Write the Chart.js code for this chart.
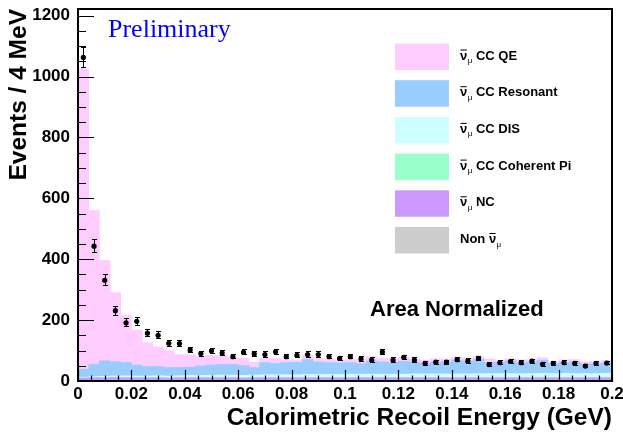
<!DOCTYPE html>
<html>
<head>
<meta charset="utf-8">
<title>Calorimetric Recoil Energy</title>
<script src="https://cdn.jsdelivr.net/npm/chart.js@4.4.1/dist/chart.umd.min.js"></script>
<style>
  html, body { margin: 0; padding: 0; background: #fff; }
</style>
</head>
<body>
<canvas id="recoil" width="623" height="435"></canvas>
<script>
// 50 bins of 4 MeV, 0 - 0.2 GeV
const BIN_WIDTH = 0.004;
const N_BINS = 50;
const binCenters = Array.from({ length: N_BINS }, (_, i) => +(BIN_WIDTH * (i + 0.5)).toFixed(4));

const xTickValues = [0, 0.02, 0.04, 0.06, 0.08, 0.1, 0.12, 0.14, 0.16, 0.18, 0.2];
const yTickValues = [0, 200, 400, 600, 800, 1000, 1200];

// data points and their errors
const dataCounts = [1063, 443, 331, 231, 191, 196, 157, 150, 124, 123,
                    102, 90, 99, 92, 80, 94, 89, 87, 96, 80,
                    84, 87, 87, 80, 74, 80, 73, 69, 95, 69,
                    78, 69, 58, 62, 62, 70, 66, 74, 54, 60,
                    64, 60, 65, 55, 58, 60, 58, 49, 58, 59];
const dataErrors = [34, 22, 19, 16, 15, 15, 13, 13, 12, 12,
                    11, 10, 10, 10, 9, 10, 10, 10, 10, 9,
                    10, 10, 10, 9, 9, 9, 9, 9, 10, 9,
                    9, 9, 8, 8, 8, 9, 9, 9, 8, 8,
                    8, 8, 8, 8, 8, 8, 8, 7, 8, 8];

// MC stack, bottom to top
const nonNumu = [0.5, 0.5, 0.5, 0.5, 0.5, 0.5, 0.5, 0.5, 0.5, 0.5,
                 0.5, 0.5, 0.5, 0.5, 0.5, 0.5, 0.5, 0.5, 0.5, 0.5,
                 0.5, 0.5, 0.5, 0.5, 0.5, 0.5, 0.5, 0.5, 0.5, 0.5,
                 0.5, 0.5, 0.5, 0.5, 0.5, 0.5, 0.5, 0.5, 0.5, 0.5,
                 0.5, 0.5, 0.5, 0.5, 0.5, 0.5, 0.5, 0.5, 0.5, 0.5];
const nc = [9, 10, 10, 11, 10, 10, 10, 10, 9, 10,
            10, 10, 10, 10, 10, 9, 10, 10, 10, 10,
            10, 10, 10, 10, 10, 10, 10, 10, 10, 10,
            10, 10, 10, 10, 10, 10, 10, 10, 10, 10,
            10, 10, 10, 10, 10, 10, 10, 10, 10, 10];
const coherent = [1, 1, 1, 1, 1.5, 1, 1, 1, 1, 1,
                  1, 1, 1, 1, 1, 1, 1, 1, 1, 1,
                  1, 1, 1, 1, 1, 1, 1, 1, 1, 1,
                  1, 1, 1, 1, 1, 1, 1, 1, 1, 1,
                  1, 1, 1, 1, 1, 1, 1, 1, 1, 1];
const dis = [2, 3, 4, 4, 5, 5, 5, 6, 6, 6,
             7, 7, 7, 8, 8, 8, 8, 9, 9, 9,
             9, 10, 10, 10, 10, 11, 11, 11, 11, 11,
             11, 12, 12, 12, 12, 12, 12, 13, 13, 13,
             13, 13, 13, 14, 13, 14, 13, 14, 13, 14];
const resonant = [26, 40, 51, 47, 44, 36, 31, 30, 28, 27,
                  27, 31, 34, 35, 35, 32, 25, 40, 37, 40,
                  41, 49, 41, 39, 38, 38, 35, 43, 40, 38,
                  42, 39, 35, 38, 39, 45, 41, 46, 36, 36,
                  42, 36, 38, 43, 32, 35, 38, 31, 32, 33];
const qe = [987, 505, 330, 227, 154, 115, 78, 64, 55, 42,
            40, 32, 31, 29, 22, 24, 17, 14, 16, 9,
            8, 14, 11, 10, 9, 10, 13, 14, 11, 11,
            13, 10, 10, 11, 10, 9, 10, 9, 12, 8,
            7, 9, 8, 8, 7, 9, 8, 7, 8, 9];

// legend, top to bottom: [text before nu-bar, text after]
const legendLabels = [
    ['', 'CC QE'],
    ['', 'CC Resonant'],
    ['', 'CC DIS'],
    ['', 'CC Coherent Pi'],
    ['', 'NC'],
    ['Non ', '']
];

const COL = {
    qe: '#ffccff', res: '#99ccff', dis: '#ccffff',
    coh: '#99ffcc', nc: '#cc99ff', non: '#cccccc'
};
const legendColors = [COL.qe, COL.res, COL.dis, COL.coh, COL.nc, COL.non];

const SANS = '"Liberation Sans", Arial, Helvetica, sans-serif';
const SERIF = '"Liberation Serif", "Times New Roman", serif';

const pts = arr => arr.map((v, i) => ({ x: binCenters[i], y: v }));
const bar = (label, arr, color) => ({
    type: 'bar', label, data: pts(arr), backgroundColor: color, borderWidth: 0,
    stack: 'mc', order: 1, barPercentage: 1, categoryPercentage: 1
});

const DATA_INDEX = 6;

function drawNuBar(ctx, x, y) {
    ctx.font = 'bold 13px ' + SANS;
    ctx.fillText('ν', x, y);
    const w = ctx.measureText('ν').width;
    ctx.fillRect(x + 0.5, y - 10, w - 1, 1);
    ctx.font = '8px ' + SANS;
    ctx.fillText('μ', x + w + 0.5, y + 3.5);
    return x + w + 0.5 + ctx.measureText('μ').width;
}

const errorBars = {
    id: 'errorBars',
    beforeDatasetDraw(chart, args) {
        if (args.index !== DATA_INDEX) return;
        const ctx = chart.ctx, ys = chart.scales.y;
        const meta = chart.getDatasetMeta(DATA_INDEX);
        ctx.save();
        ctx.fillStyle = '#000';
        meta.data.forEach((p, i) => {
            const y1 = Math.round(ys.getPixelForValue(dataCounts[i] + dataErrors[i]));
            const y2 = Math.round(ys.getPixelForValue(dataCounts[i] - dataErrors[i]));
            const x = Math.round(p.x);
            ctx.fillRect(x, y1, 1, y2 - y1);
            ctx.fillRect(x - 2, y1, 5, 1);
            ctx.fillRect(x - 2, y2 - 1, 5, 1);
        });
        ctx.restore();
    }
};

const padDecor = {
    id: 'padDecor',
    afterDraw(chart) {
        const ctx = chart.ctx, a = chart.chartArea;
        const xs = chart.scales.x, ys = chart.scales.y;
        ctx.save();
        // frame
        ctx.strokeStyle = '#000';
        ctx.lineWidth = 2;
        ctx.strokeRect(a.left, a.top, a.right - a.left, a.bottom - a.top);

        // ROOT style ticks inside the frame
        ctx.lineWidth = 1.2;
        ctx.beginPath();
        for (let k = 0; k <= 40; k++) {
            const len = k % 4 === 0 ? 11 : 5.5;
            const x = Math.round(xs.getPixelForValue(k * 0.005)) + 0.5;
            ctx.moveTo(x, a.bottom);
            ctx.lineTo(x, a.bottom - len);
        }
        for (let k = 0; k <= 24; k++) {
            const len = k % 4 === 0 ? 16 : 8;
            const y = Math.round(ys.getPixelForValue(k * 50)) + 0.5;
            ctx.moveTo(a.left, y);
            ctx.lineTo(a.left + len, y);
        }
        ctx.stroke();

        ctx.fillStyle = '#0000ff';
        ctx.font = '26px ' + SERIF;
        ctx.textBaseline = 'alphabetic';
        ctx.textAlign = 'left';
        ctx.fillText('Preliminary', 108, 37);

        ctx.fillStyle = '#000';
        ctx.font = 'bold 22px ' + SANS;
        ctx.fillText('Area Normalized', 370, 316);

        // legend
        legendLabels.forEach((lab, i) => {
            const top = 43.5 + i * 36.7;
            ctx.fillStyle = legendColors[i];
            ctx.fillRect(395, top, 54, 26.5);
            ctx.fillStyle = '#000';
            const base = top + 16;
            let x = 460;
            if (lab[0]) {
                ctx.font = 'bold 13px ' + SANS;
                ctx.fillText(lab[0], x, base);
                x += ctx.measureText(lab[0]).width;
            }
            x = drawNuBar(ctx, x, base);
            if (lab[1]) {
                ctx.font = 'bold 13px ' + SANS;
                ctx.fillText(' ' + lab[1], x, base);
            }
        });
        ctx.restore();
    }
};

new Chart(document.getElementById('recoil'), {
    type: 'bar',
    data: {
        datasets: [
            bar('Non numu', nonNumu, COL.non),
            bar('NC', nc, COL.nc),
            bar('CC Coherent Pi', coherent, COL.coh),
            bar('CC DIS', dis, COL.dis),
            bar('CC Resonant', resonant, COL.res),
            bar('CC QE', qe, COL.qe),
            {
                type: 'line', label: 'Data', data: pts(dataCounts), showLine: false,
                pointRadius: 2.6, pointBackgroundColor: '#000', pointBorderWidth: 0,
                stack: 'data', order: 0
            }
        ]
    },
    options: {
        responsive: false,
        animation: false,
        layout: { padding: { top: 9, right: 11, left: 0, bottom: 0 } },
        plugins: { legend: { display: false }, tooltip: { enabled: false } },
        scales: {
            x: {
                type: 'linear', min: 0, max: 0.2, offset: false,
                grid: { display: false, drawTicks: false },
                border: { display: false },
                afterBuildTicks: s => { s.ticks = xTickValues.map(v => ({ value: v })); },
                afterFit: s => { s.height = 54; s.paddingLeft = 0; s.paddingRight = 0; },
                ticks: {
                    padding: 3, color: '#000', maxRotation: 0, autoSkip: false,
                    font: { family: SANS, size: 17, weight: 'bold' },
                    callback: v => String(+v.toFixed(3))
                },
                title: {
                    display: true, text: 'Calorimetric Recoil Energy (GeV)', align: 'end',
                    color: '#000', padding: { top: 0, bottom: 2 },
                    font: { family: SANS, size: 24.5, weight: 'bold' }
                }
            },
            y: {
                stacked: true, min: 0, max: 1222,
                grid: { display: false, drawTicks: false },
                border: { display: false },
                afterBuildTicks: s => { s.ticks = yTickValues.map(v => ({ value: v })); },
                afterFit: s => { s.width = 78; s.paddingTop = 0; s.paddingBottom = 0; },
                ticks: {
                    padding: 8, color: '#000',
                    font: { family: SANS, size: 17, weight: 'bold' },
                    callback: v => String(v)
                },
                title: {
                    display: true, text: 'Events / 4 MeV', align: 'end',
                    color: '#000', padding: { top: 5, bottom: 0 },
                    font: { family: SANS, size: 24.5, weight: 'bold' }
                }
            }
        }
    },
    plugins: [errorBars, padDecor]
});
</script>
</body>
</html>
